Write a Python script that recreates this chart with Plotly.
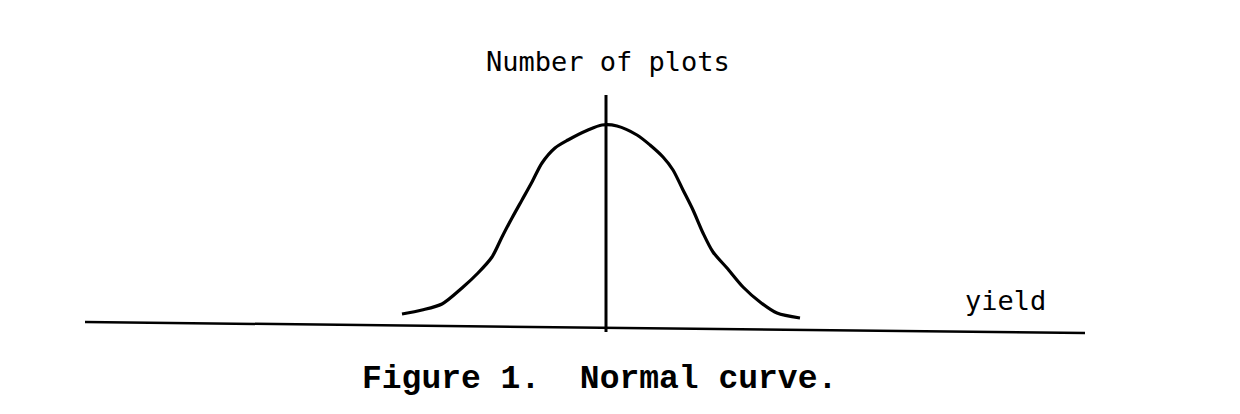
import plotly.graph_objects as go

# Yield (deviation from the mean) and number of plots
curve_yield = [-4.08, -3.68, -3.28, -2.88, -2.56, -2.28, -2.08, -1.88, -1.68, -1.48,
               -1.28, -1.02, -0.76, -0.36, -0.08, 0.22, 0.62, 0.88, 1.14, 1.34,
               1.54, 1.74, 1.94, 2.14, 2.42, 2.74, 3.08, 3.42, 3.88]
curve_plots = [0.65, 0.85, 1.15, 1.95, 2.7, 3.5, 4.5, 5.45, 6.35, 7.25,
               8.2, 8.95, 9.35, 9.85, 10.1, 10.05, 9.6, 9.1, 8.5, 7.85,
               6.85, 5.85, 4.7, 3.75, 2.95, 2.0, 1.25, 0.7, 0.45]

# Hand-drawn axes (slightly slanted baseline)
base_x = [-10.42, 9.58]
base_y = [0.25, -0.3]
vert_x = [0.0, 0.0]
vert_y = [-0.25, 11.6]

fig = go.Figure()
fig.add_trace(go.Scatter(x=base_x, y=base_y, mode="lines",
                         line=dict(color="black", width=2.5), hoverinfo="skip"))
fig.add_trace(go.Scatter(x=vert_x, y=vert_y, mode="lines",
                         line=dict(color="black", width=3), hoverinfo="skip"))
fig.add_trace(go.Scatter(x=curve_yield, y=curve_plots, mode="lines",
                         line=dict(color="black", width=3.2, shape="spline", smoothing=0.8),
                         hoverinfo="skip"))

W, H, OFF = 1232, 406, 8  # page has an 8px body margin


def px(xp):
    return (xp - OFF) / W


def py(yp):
    return 1 - (yp - OFF) / H


fig.add_annotation(text="Number of plots", x=px(608), y=py(62), xref="paper", yref="paper",
                   showarrow=False, xanchor="center", yanchor="middle",
                   font=dict(family="DejaVu Sans Mono", size=27, color="black"))
fig.add_annotation(text="yield", x=px(1005), y=py(300), xref="paper", yref="paper",
                   showarrow=False, xanchor="center", yanchor="middle",
                   font=dict(family="DejaVu Sans Mono", size=27, color="black"))
fig.add_annotation(text="<b>Figure 1.  Normal curve.</b>", x=px(599), y=py(379),
                   xref="paper", yref="paper", showarrow=False, xanchor="center", yanchor="middle",
                   font=dict(family="Liberation Mono", size=33, color="black"))

fig.update_layout(width=W, height=H, margin=dict(l=0, r=0, t=0, b=0),
                  paper_bgcolor="white", plot_bgcolor="white", showlegend=False,
                  xaxis=dict(range=[-11.96, 12.68], visible=False, fixedrange=True),
                  yaxis=dict(range=[-4.35, 15.95], visible=False, fixedrange=True))

fig.write_html("out.html")
